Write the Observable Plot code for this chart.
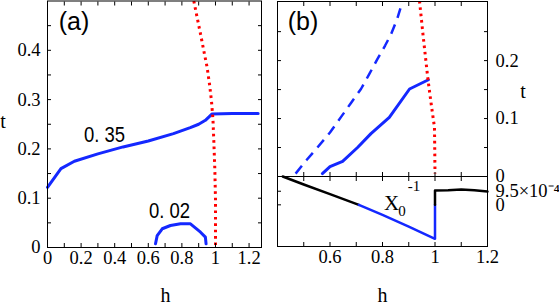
<!DOCTYPE html>
<html><head><meta charset="utf-8">
<script src="https://cdn.jsdelivr.net/npm/d3@7"></script>
<script src="https://cdn.jsdelivr.net/npm/@observablehq/plot@0.6"></script>
<style>
html,body{margin:0;padding:0;background:#fff;}
#wrap{position:relative;width:559px;height:308px;overflow:hidden;background:#fff;}
#wrap svg{position:absolute;left:0;top:0;}
</style></head><body><div id="wrap"></div>
<script>
// ---------- Panel (a): t vs h ----------
const a_h035 = [0, 0.08, 0.16, 0.3, 0.45, 0.6, 0.75, 0.85, 0.9, 0.94, 0.98, 1.1, 1.254];
const a_t035 = [0.122, 0.16, 0.175, 0.19, 0.204, 0.216, 0.231, 0.243, 0.25, 0.258, 0.271, 0.272, 0.272];
const a_h002 = [0.643, 0.653, 0.683, 0.732, 0.792, 0.851, 0.911, 0.94, 0.944];
const a_t002 = [0.0075, 0.024, 0.038, 0.0446, 0.048, 0.048, 0.031, 0.021, 0.0075];
const a_hRed = [0.871, 0.89, 0.911, 0.93, 0.95, 0.965, 0.976, 0.985, 0.99, 0.996, 1.0, 1.0];
const a_tRed = [0.5, 0.468, 0.433, 0.4, 0.366, 0.33, 0.298, 0.26, 0.217, 0.16, 0.1, 0.0];
const a_curveLabels = ["0. 35", "0. 02"];
const a_labelH = [0.339, 0.726];
const a_labelT = [0.229, 0.075];
const a_xTicks = [0, 0.1, 0.2, 0.3, 0.4, 0.5, 0.6, 0.7, 0.8, 0.9, 1.0, 1.1, 1.2];
const a_xLabels = [0, 0.2, 0.4, 0.6, 0.8, 1, 1.2];
const a_yTicks = [0.05, 0.1, 0.15, 0.2, 0.25, 0.3, 0.35, 0.4, 0.45];
const a_yLabels = [0, 0.1, 0.2, 0.3, 0.4];

// ---------- Panel (b) upper: t vs h ----------
const b_hDash = [0.469, 0.51, 0.552, 0.6, 0.641, 0.68, 0.718, 0.75, 0.781, 0.81, 0.833, 0.856, 0.877];
const b_tDash = [0.005, 0.028, 0.05, 0.076, 0.102, 0.127, 0.151, 0.177, 0.203, 0.226, 0.246, 0.272, 0.303];
const b_hSolid = [0.571, 0.6, 0.648, 0.705, 0.756, 0.826, 0.903, 0.975];
const b_tSolid = [0.005, 0.017, 0.026, 0.05, 0.074, 0.102, 0.151, 0.167];
const b_hRed = [0.941, 0.954, 0.973, 0.987, 0.998, 0.999, 1.0];
const b_tRed = [0.303, 0.246, 0.168, 0.12, 0.085, 0.047, 0.005];
const b_xTicks = [0.5, 0.6, 0.7, 0.8, 0.9, 1.0, 1.1];
const b_xLabels = [0.6, 0.8, 1, 1.2];
const b_tTicks = [0.05, 0.1, 0.15, 0.2, 0.25];
const b_tLabels = [0, 0.1, 0.2];

// ---------- Panel (b) lower: X0^-1 vs h (units of 1e-4) ----------
const x_hPos = [0.42, 0.5, 0.6, 0.71];
const x_vPos = [19.8, 14.2, 7.5, 0];
const x_hNeg = [0.71, 0.8, 0.9, 1.0, 1.0];
const x_vNeg = [0, -7, -15.2, -23.7, 0];
const x_hHigh = [1.0, 1.0, 1.05, 1.1, 1.15, 1.2];
const x_vHigh = [0, 10, 10.2, 10.7, 10.2, 9.3];
const x_vTicks = [0, 9.5];
const x_vLabels = ["0", "9.5×10⁻⁴"];

const W = 559, H = 308;
const SERIF = "'Liberation Serif', 'Times New Roman', serif";
const SANS = "'Liberation Sans', Arial, sans-serif";
const BLUE = "#1428ff", RED = "#ff0000";
const TICKFONT = 18.5;
const fmt = d3.format("~g");
const pts = (xs, ys) => xs.map((x, i) => ({h: x, t: ys[i]}));

// inward tick marks (no labels)
const inX = (anchor, ticks) => Plot.axisX({anchor, ticks, tickSize: -4, tickFormat: () => "", label: null});
const inY = (anchor, ticks) => Plot.axisY({anchor, ticks, tickSize: -4, tickFormat: () => "", label: null});
// tick labels drawn through the scales as text marks
const labX = (ticks, f = fmt) => Plot.text(ticks, {x: d => d, text: d => f(d), frameAnchor: "bottom", dy: 11, textAnchor: "middle", lineAnchor: "middle", fontSize: TICKFONT, fontFamily: SERIF, fill: "black"});
const labY = (side, ticks, f = fmt, pad = 7) => Plot.text(ticks, {y: d => d, text: d => f(d), frameAnchor: side, dx: side === "left" ? -pad : pad, textAnchor: side === "left" ? "end" : "start", lineAnchor: "middle", fontSize: TICKFONT, fontFamily: SERIF, fill: "black"});

const base = {width: W, height: H, style: {background: "transparent", color: "black", overflow: "visible", fontFamily: SERIF}};
const dots = {stroke: RED, strokeWidth: 3, strokeDasharray: "2.6,3.8", strokeLinecap: "butt", clip: true};

// Panel (a)
const pa = Plot.plot({
  ...base,
  marginLeft: 47, marginRight: W - 261, marginTop: 0.5, marginBottom: H - 247,
  x: {domain: [0, 1.274]},
  y: {domain: [0, 0.5]},
  marks: [
    Plot.line(pts(a_h035, a_t035), {x: "h", y: "t", stroke: BLUE, strokeWidth: 3}),
    Plot.line(pts(a_h002, a_t002), {x: "h", y: "t", stroke: BLUE, strokeWidth: 3}),
    Plot.line(pts(a_hRed, a_tRed), {x: "h", y: "t", ...dots}),
    Plot.text(a_curveLabels, {x: (d, i) => a_labelH[i], y: (d, i) => a_labelT[i], text: d => d, fontSize: 22, fontFamily: SANS, fill: "black"}),
    inX("bottom", a_xTicks), inX("top", a_xTicks),
    inY("left", a_yTicks), inY("right", a_yTicks),
    labX(a_xLabels), labY("left", a_yLabels),
    Plot.text(["(a)"], {frameAnchor: "top-left", dx: 26.5, dy: 21, textAnchor: "middle", lineAnchor: "middle", fontSize: 25, fontFamily: SANS}),
    Plot.text(["t"], {frameAnchor: "left", dx: -44.5, dy: -2.5, textAnchor: "middle", lineAnchor: "middle", fontSize: 20, fontFamily: SERIF}),
    Plot.text(["h"], {frameAnchor: "bottom", dx: 11, dy: 48, textAnchor: "middle", lineAnchor: "middle", fontSize: 20, fontFamily: SERIF}),
    Plot.frame({stroke: "black", strokeWidth: 1})
  ]
});
// narrow (condensed) look of the curve labels
d3.select(pa).selectAll("text").filter(function () { return a_curveLabels.includes(this.textContent); })
  .attr("transform", function () { return this.getAttribute("transform") + " scale(0.84,1)"; });

// Panel (b) upper
const pb = Plot.plot({
  ...base,
  marginLeft: 277, marginRight: W - 487, marginTop: 1, marginBottom: H - 176,
  x: {domain: [0.4, 1.2]},
  y: {domain: [0, 0.302]},
  marks: [
    Plot.line(pts(b_hDash, b_tDash), {x: "h", y: "t", stroke: BLUE, strokeWidth: 2.5, strokeDasharray: "10,7", strokeLinecap: "butt", clip: true}),
    Plot.line(pts(b_hSolid, b_tSolid), {x: "h", y: "t", stroke: BLUE, strokeWidth: 3}),
    Plot.line(pts(b_hRed, b_tRed), {x: "h", y: "t", ...dots}),
    inX("bottom", b_xTicks), inX("top", b_xTicks),
    inY("left", b_tTicks), inY("right", b_tTicks),
    labY("right", b_tLabels, fmt, 8),
    Plot.text(["(b)"], {frameAnchor: "top-left", dx: 25.5, dy: 20.5, textAnchor: "middle", lineAnchor: "middle", fontSize: 25, fontFamily: SANS}),
    Plot.text(["t"], {frameAnchor: "right", dx: 35.5, dy: 2.5, textAnchor: "middle", lineAnchor: "middle", fontSize: 20, fontFamily: SERIF}),
    Plot.frame({stroke: "black", strokeWidth: 1})
  ]
});

// Panel (b) lower
const pc = Plot.plot({
  ...base,
  marginLeft: 277, marginRight: W - 487, marginTop: 176, marginBottom: H - 246,
  x: {domain: [0.4, 1.2]},
  y: {domain: [-29.1, 19.8]},
  marks: [
    Plot.line(pts(x_hPos, x_vPos), {x: "h", y: "t", stroke: "black", strokeWidth: 2.5}),
    Plot.line(pts(x_hNeg, x_vNeg), {x: "h", y: "t", stroke: BLUE, strokeWidth: 2.5}),
    Plot.line(pts(x_hHigh, x_vHigh), {x: "h", y: "t", stroke: "black", strokeWidth: 2.5}),
    Plot.text(["X"], {x: 0.8345, y: 1.26, textAnchor: "middle", lineAnchor: "middle", fontSize: 21, fontFamily: SERIF}),
    Plot.text(["0"], {x: 0.8345, y: 1.26, dx: 10.5, dy: 8.5, textAnchor: "middle", lineAnchor: "middle", fontSize: 15, fontFamily: SERIF}),
    Plot.text(["-1"], {x: 0.8345, y: 1.26, dx: 22.5, dy: -16.5, textAnchor: "middle", lineAnchor: "middle", fontSize: 15, fontFamily: SERIF}),
    inX("bottom", b_xTicks), inX("top", b_xTicks),
    inY("left", x_vTicks),
    labX(b_xLabels),
    labY("right", x_vTicks, (d) => x_vLabels[x_vTicks.indexOf(d)], 8),
    Plot.text(["h"], {frameAnchor: "bottom", dx: 0, dy: 49, textAnchor: "middle", lineAnchor: "middle", fontSize: 20, fontFamily: SERIF}),
    Plot.frame({stroke: "black", strokeWidth: 1})
  ]
});

const wrap = document.getElementById("wrap");
wrap.append(pa, pb, pc);
</script></body></html>
